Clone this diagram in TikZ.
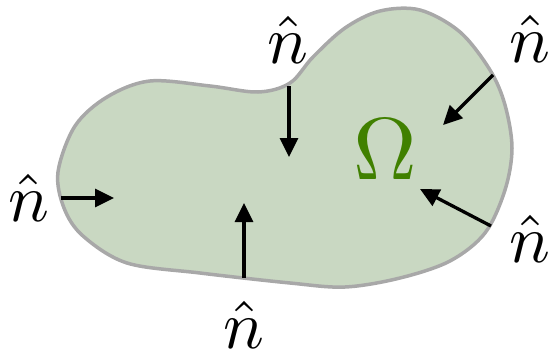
\documentclass[tikz,border=0pt]{standalone}
\usetikzlibrary{arrows.meta}
\definecolor{blobfill}{RGB}{201,216,194}
\definecolor{blobline}{RGB}{168,168,168}
\definecolor{omegagreen}{RGB}{64,128,0}
\tikzset{
  nlabel/.style={inner sep=0pt, scale=6.8},
  normalarrow/.style={line width=3.3pt, -{Triangle[length=19pt,width=18pt]}},
}
\begin{document}
\begin{tikzpicture}[x=1pt,y=-1pt]
\useasboundingbox (0,0) rectangle (554,353);
\draw[fill=blobfill, draw=blobline, line width=3.5pt]
  plot[smooth cycle, tension=0.55] coordinates {
  (58,172) (64,208) (83,236) (127,263) (200,273) (290,283) (345,287)
  (400,278) (450,261) (485,233) (505,190) (512,148) (505,105) (490,70)
  (460,32) (420,10) (380,11) (345,28) (313,57) (290,83) (258,92)
  (210,86) (150,81) (107,97) (75,126)};
% boundary points and tips
\coordinate (s1) at (289,86);
\coordinate (t1) at (289,157);
\coordinate (s2) at (61,198);
\coordinate (t2) at (114,198);
\coordinate (s3) at (244,278);
\coordinate (t3) at (244,203);
\coordinate (s4) at (493,75);
\coordinate (t4) at (443,125);
\coordinate (s5) at (491,226);
\coordinate (t5) at (420,189);
\draw[normalarrow] (s1) -- (t1);
\draw[normalarrow] (s2) -- (t2);
\draw[normalarrow] (s3) -- (t3);
\draw[normalarrow] (s4) -- (t4);
\draw[normalarrow] (s5) -- (t5);
\node[nlabel] (n1) at (288,40) {$\hat{n}$};
\node[nlabel] (n2) at (29,198) {$\hat{n}$};
\node[nlabel] (n3) at (244,325) {$\hat{n}$};
\node[nlabel] (n4) at (530,39) {$\hat{n}$};
\node[nlabel] (n5) at (530,239) {$\hat{n}$};
\node[inner sep=0pt, scale=8.8, text=omegagreen] (om) at (385,149) {$\Omega$};
\end{tikzpicture}
\end{document}
